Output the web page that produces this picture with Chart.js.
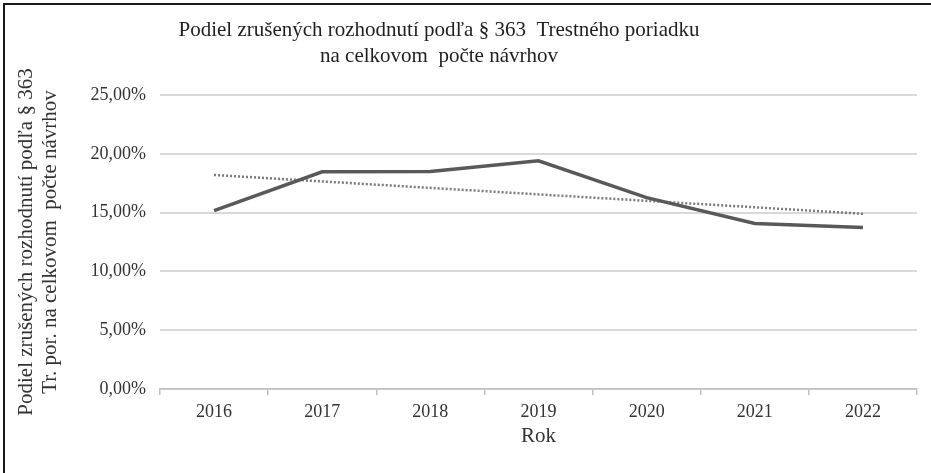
<!DOCTYPE html>
<html>
<head>
<meta charset="utf-8">
<script src="https://cdn.jsdelivr.net/npm/chart.js@4.4.1/dist/chart.umd.min.js"></script>
<style>
  html, body { margin: 0; padding: 0; background: #fff; }
  #wrap { position: relative; width: 931px; height: 473px; }
  #frame { position: absolute; left: 3px; top: 3px; right: 0; bottom: 0;
           border-left: 2px solid #1a1a1a; border-top: 2px solid #1a1a1a; pointer-events: none; }
  canvas { position: absolute; left: 0; top: 0; }
</style>
</head>
<body>
<div id="wrap">
  <canvas id="c" width="931" height="473"></canvas>
  <div id="frame"></div>
</div>
<script>
const years = ['2016', '2017', '2018', '2019', '2020', '2021', '2022'];
const shareValues = [15.17, 18.47, 18.5, 19.4, 16.27, 14.07, 13.73];
const trendValues = [18.2, null, null, null, null, null, 14.9];
const titleLines = ['Podiel zrušených rozhodnutí podľa § 363  Trestného poriadku', 'na celkovom  počte návrhov'];
const yTitleLines = ['Podiel zrušených rozhodnutí podľa § 363', 'Tr. por. na celkovom  počte návrhov'];
const xTitle = 'Rok';

const SERIF = '"Liberation Serif", "Times New Roman", serif';

const titlePlugin = {
  id: 'customTitle',
  afterDraw(chart) {
    const ctx = chart.ctx;
    ctx.save();
    ctx.fillStyle = '#1f1f1f';
    ctx.font = '21px ' + SERIF;
    ctx.textAlign = 'center';
    ctx.textBaseline = 'middle';
    ctx.fillText(titleLines[0], 439, 30);
    ctx.fillText(titleLines[1], 439, 56);
    ctx.restore();
  }
};

const fmt = v => v.toFixed(2).replace('.', ',') + '%';

new Chart(document.getElementById('c'), {
  type: 'line',
  data: {
    labels: years,
    datasets: [
      {
        label: 'Podiel',
        data: shareValues,
        borderColor: '#595959',
        borderWidth: 3.5,
        pointRadius: 0,
        tension: 0,
        fill: false
      },
      {
        label: 'Trend',
        data: trendValues,
        spanGaps: true,
        borderColor: '#7a7a7a',
        borderWidth: 2.5,
        borderDash: [2, 2],
        pointRadius: 0,
        tension: 0,
        fill: false
      }
    ]
  },
  options: {
    responsive: false,
    animation: false,
    devicePixelRatio: 1,
    layout: { padding: { top: 95, right: 14, bottom: 0, left: 0 } },
    plugins: {
      legend: { display: false },
      title: { display: false },
      tooltip: { enabled: false }
    },
    scales: {
      x: {
        offset: true,
        grid: {
          offset: true,
          drawOnChartArea: false,
          drawTicks: true,
          tickLength: 6,
          color: '#bfbfbf',
          lineWidth: 1.5
        },
        border: { display: true, color: '#bfbfbf', width: 1.5 },
        ticks: {
          color: '#333',
          font: { family: SERIF, size: 18 },
          padding: 6,
          maxRotation: 0
        },
        title: {
          display: true,
          text: xTitle,
          color: '#333',
          font: { family: SERIF, size: 21, lineHeight: 1 },
          padding: { top: 0, bottom: 26 }
        },
        afterFit(scale) { scale.height = 84; }
      },
      y: {
        min: 0,
        max: 25,
        ticks: {
          stepSize: 5,
          color: '#333',
          font: { family: SERIF, size: 18 },
          padding: 14,
          callback: v => fmt(v)
        },
        grid: {
          color: '#d9d9d9',
          lineWidth: 2,
          drawTicks: false
        },
        border: { display: false },
        title: {
          display: true,
          text: yTitleLines,
          color: '#333',
          font: { family: SERIF, size: 21, lineHeight: 1.15 },
          padding: { top: 14, bottom: 0 }
        },
        afterFit(scale) { scale.width = 160; }
      }
    }
  },
  plugins: [titlePlugin]
});
</script>
</body>
</html>
